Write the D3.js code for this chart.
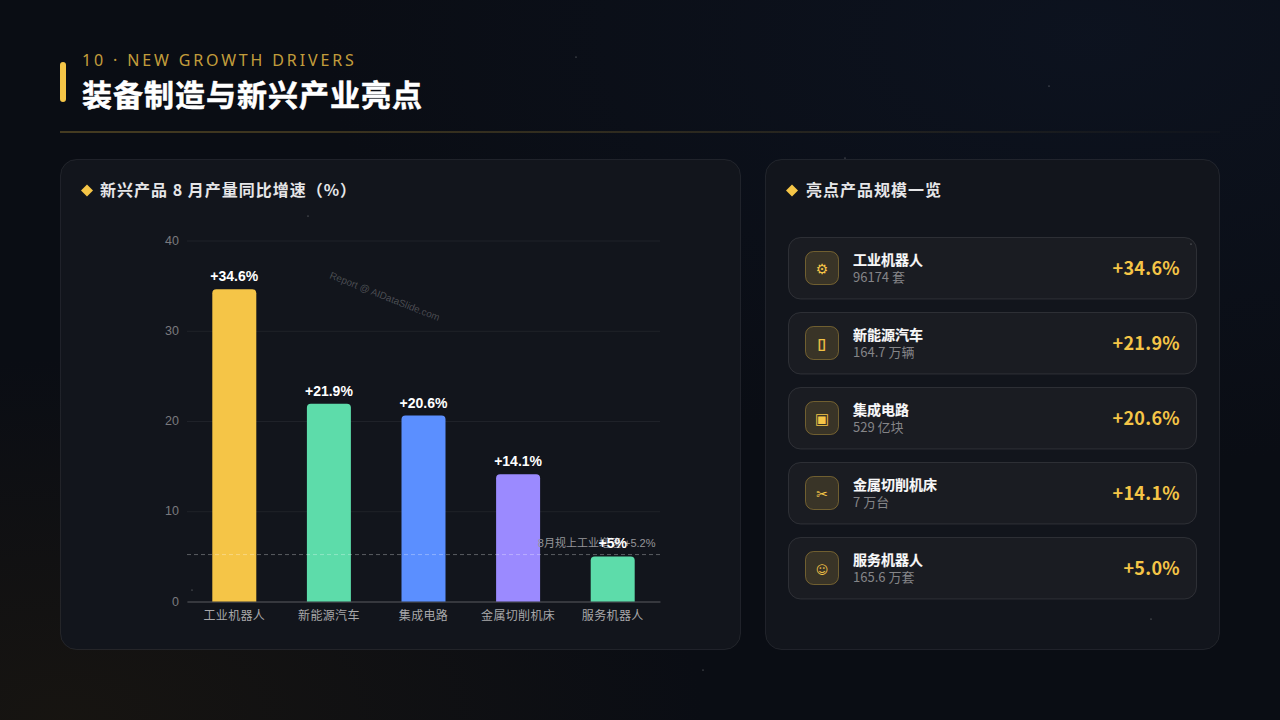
<!DOCTYPE html>
<html lang="zh-CN">
<head>
<meta charset="utf-8">
<script src="https://cdn.jsdelivr.net/npm/d3@7/dist/d3.min.js"></script>
<style>
html,body{margin:0;padding:0;width:1280px;height:720px;overflow:hidden;background:#0a0d14}
svg{display:block}
text{font-family:"Noto Sans CJK SC","Noto Sans",sans-serif}
.latin{font-family:"Liberation Sans",Arial,"Noto Sans CJK SC",sans-serif}
.sym{font-family:"DejaVu Sans",sans-serif}
</style>
</head>
<body>
<svg id="c" width="1280" height="720"></svg>
<script>
const categories = ["工业机器人","新能源汽车","集成电路","金属切削机床","服务机器人"];
const growth = [34.6,21.9,20.6,14.1,5];
const barColors = ["#f5c547","#5ddcaa","#5b8fff","#9b8aff","#5ddcaa"];
const yTicks = [0,10,20,30,40];
const reference = 5.2;
const referenceLabel = "8月规上工业增速 +5.2%";
const scaleTexts = ["96174 套","164.7 万辆","529 亿块","7 万台","165.6 万套"];
const growthTexts = ["+34.6%","+21.9%","+20.6%","+14.1%","+5.0%"];
const icons = ["⚙","▯","▣","✂","☺"];
const iconSizes = [14,15,15,14,12];
const stars = [[576,57],[1049,86],[1151,619],[703,670],[308,216],[192,590],[1191,244],[845,158]];

const svg = d3.select("#c");
const defs = svg.append("defs");
const g1 = defs.append("radialGradient").attr("id","glowBlue").attr("cx",0.85).attr("cy",0.05).attr("r",0.6);
g1.append("stop").attr("offset","0%").attr("stop-color","#0e1626").attr("stop-opacity",.6);
g1.append("stop").attr("offset","100%").attr("stop-color","#0e1626").attr("stop-opacity",0);
const g2 = defs.append("radialGradient").attr("id","glowWarm").attr("cx",0.05).attr("cy",1).attr("r",0.5);
g2.append("stop").attr("offset","0%").attr("stop-color","#1a1610").attr("stop-opacity",.8);
g2.append("stop").attr("offset","100%").attr("stop-color","#1a1610").attr("stop-opacity",0);
const rule = defs.append("linearGradient").attr("id","rule");
rule.append("stop").attr("offset","0%").attr("stop-color","#f5c547").attr("stop-opacity",.5);
rule.append("stop").attr("offset","50%").attr("stop-color","#f5c547").attr("stop-opacity",.3);
rule.append("stop").attr("offset","100%").attr("stop-color","#f5c547").attr("stop-opacity",.03);

["#0a0d14","url(#glowBlue)","url(#glowWarm)"].forEach(f=>svg.append("rect").attr("width",1280).attr("height",720).attr("fill",f));

svg.append("rect").attr("x",60).attr("y",62).attr("width",6).attr("height",40).attr("rx",3).attr("fill","#f5c547");
svg.append("text").attr("x",82).attr("y",66).attr("font-size",16).attr("letter-spacing",2.85).attr("fill","#f5c547").attr("fill-opacity",.8)
  .style("font-family","'Noto Sans',sans-serif").text("10 · NEW GROWTH DRIVERS");
svg.append("text").attr("x",82).attr("y",106).attr("font-size",30).attr("font-weight",700).attr("letter-spacing",1)
  .attr("fill","#fff").attr("stroke","#fff").attr("stroke-width",.5).text("装备制造与新兴产业亮点");
svg.append("rect").attr("x",60).attr("y",131.5).attr("width",1160).attr("height",1).attr("fill","url(#rule)");

function panel(x,w){
  svg.append("rect").attr("x",x+.5).attr("y",159.5).attr("width",w).attr("height",490).attr("rx",16)
    .attr("fill","#12151c").attr("stroke","#ffffff").attr("stroke-opacity",.08);
}
panel(60,680); panel(765,454);

svg.append("path").attr("d",d3.line()([[87,184.5],[93,190.5],[87,196.5],[81,190.5]])+"Z").attr("fill","#f5c547");
svg.append("path").attr("d",d3.line()([[792,184.5],[798,190.5],[792,196.5],[786,190.5]])+"Z").attr("fill","#f5c547");
[[100,"新兴产品 8 月产量同比增速（%）"],[806,"亮点产品规模一览"]].forEach(([px,t])=>
  svg.append("text").attr("x",px).attr("y",196).attr("font-size",16).attr("font-weight",700).attr("fill","#e6e6e8").attr("letter-spacing",1).text(t));

const x = d3.scaleBand().domain(categories).range([187,660]).paddingInner(0).paddingOuter(0);
const y = d3.scaleLinear().domain([0,40]).range([601.5,240.5]);
const barW = 44;

const gy = svg.append("g").attr("transform","translate(187,0)")
  .call(d3.axisLeft(y).tickValues(yTicks).tickSize(-473).tickPadding(8));
gy.select(".domain").remove();
gy.selectAll(".tick line").attr("stroke","#ffffff").attr("stroke-opacity",.06);
gy.selectAll(".tick text").attr("class","latin").attr("font-size",12.5).attr("dy","0.28em").attr("fill","#7a7a7e");

const gx = svg.append("g").attr("transform","translate(0,601.5)")
  .call(d3.axisBottom(x).tickSize(0).tickPadding(8));
gx.select(".domain").attr("stroke","#55575b").attr("stroke-width",1);
gx.selectAll(".tick text").attr("class","latin").attr("font-size",12).attr("letter-spacing",.35).attr("dy","0.85em").attr("fill","#a8a8aa");

svg.append("text").attr("transform","translate(329,278) rotate(21.5)").attr("class","latin")
  .attr("font-size",9.8).attr("fill","#ffffff").attr("fill-opacity",.24).text("Report @ AIDataSlide.com");

const cx = c => x(c)+x.bandwidth()/2;
svg.append("g").selectAll("path").data(categories).join("path")
  .attr("d",(c,i)=>{
    const l=cx(c)-barW/2,r=cx(c)+barW/2,t=y(growth[i]),b=y(0),q=4;
    return `M${l},${b}V${t+q}Q${l},${t} ${l+q},${t}H${r-q}Q${r},${t} ${r},${t+q}V${b}Z`;
  }).attr("fill",(c,i)=>barColors[i]);

svg.append("line").attr("x1",187).attr("x2",660).attr("y1",y(reference)).attr("y2",y(reference))
  .attr("stroke","#ffffff").attr("stroke-opacity",.3).attr("stroke-dasharray","4 3");
svg.append("text").attr("x",655.5).attr("y",y(reference)-7.5).attr("text-anchor","end").attr("class","latin")
  .attr("font-size",11).attr("fill","#96969a").text(referenceLabel);

svg.append("g").selectAll("text").data(categories).join("text").attr("class","latin")
  .attr("x",c=>cx(c)).attr("y",(c,i)=>y(growth[i])-8).attr("text-anchor","middle")
  .attr("font-size",14).attr("font-weight",700).attr("fill","#fff").text((c,i)=>"+"+growth[i]+"%");

const rowY = d3.scalePoint().domain(categories).range([237,537]);
const rows = svg.append("g").selectAll("g").data(categories).join("g").attr("transform",c=>`translate(788,${rowY(c)})`);
rows.append("rect").attr("x",.5).attr("y",.5).attr("width",408).attr("height",61.5).attr("rx",12)
  .attr("fill","#1a1c22").attr("stroke","#ffffff").attr("stroke-opacity",.1);
rows.append("rect").attr("x",17.5).attr("y",14.5).attr("width",33).attr("height",33).attr("rx",8)
  .attr("fill","#f5c547").attr("fill-opacity",.14).attr("stroke","#f5c547").attr("stroke-opacity",.35);
rows.append("text").attr("class","sym").attr("x",34).attr("y",36.5).attr("text-anchor","middle").attr("font-size",(c,i)=>iconSizes[i]).attr("fill","#f5c547")
  .attr("stroke","#f5c547").attr("stroke-width",(c,i)=>i===1?.5:0).text((c,i)=>icons[i]);
rows.append("text").attr("x",65).attr("y",28).attr("font-size",14).attr("font-weight",700).attr("fill","#f8f8f9").attr("stroke","#f8f8f9").attr("stroke-width",.15).text(c=>c);
rows.append("text").attr("x",65).attr("y",45).attr("font-size",13).attr("fill","#858588").text((c,i)=>scaleTexts[i]);
rows.append("text").attr("x",392).attr("y",38).attr("text-anchor","end").attr("font-size",18).attr("letter-spacing",.3).attr("font-weight",700).attr("fill","#f5c547").text((c,i)=>growthTexts[i]);

svg.append("g").selectAll("circle").data(stars).join("circle")
  .attr("cx",d=>d[0]).attr("cy",d=>d[1]).attr("r",.6).attr("fill","#fff").attr("fill-opacity",.5);
</script>
</body>
</html>
